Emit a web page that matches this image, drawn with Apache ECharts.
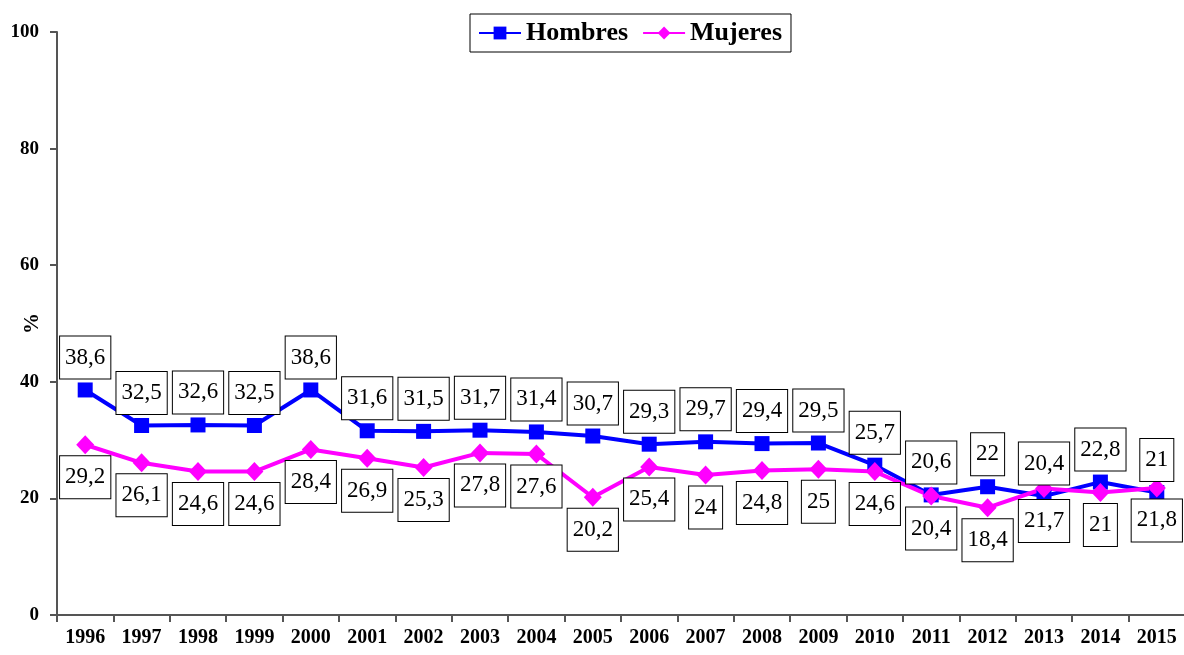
<!DOCTYPE html>
<html>
<head>
<meta charset="utf-8">
<script src="https://cdn.jsdelivr.net/npm/echarts@6/dist/echarts.min.js"></script>
<style>
html,body{margin:0;padding:0;background:#fff;}
#chart{width:1184px;height:655px;}
</style>
</head>
<body>
<div id="chart"></div>
<script>
var years = ['1996','1997','1998','1999','2000','2001','2002','2003','2004','2005','2006','2007','2008','2009','2010','2011','2012','2013','2014','2015'];
var hombres = [38.6,32.5,32.6,32.5,38.6,31.6,31.5,31.7,31.4,30.7,29.3,29.7,29.4,29.5,25.7,20.6,22,20.4,22.8,21];
var mujeres = [29.2,26.1,24.6,24.6,28.4,26.9,25.3,27.8,27.6,20.2,25.4,24,24.8,25,24.6,20.4,18.4,21.7,21,21.8];

var FONT = '"Liberation Serif","Times New Roman",serif';
function fmt(p){ return String(p.value).replace('.', ','); }
var boxLabel = {
  show: true,
  formatter: fmt,
  fontFamily: FONT,
  fontSize: 23,
  lineHeight: 24,
  color: '#000',
  backgroundColor: '#fff',
  borderColor: '#000',
  borderWidth: 1,
  padding: [9, 5, 9, 5]
};

var chart = echarts.init(document.getElementById('chart'), null, {renderer: 'canvas'});
chart.setOption({
  animation: false,
  backgroundColor: '#fff',
  grid: {left: 57, right: -1, top: 32, bottom: 40, containLabel: false, outerBoundsMode: 'none'},
  legend: {
    left: 470, top: 14,
    padding: [6, 9, 6, 8],
    itemGap: 14,
    itemWidth: 42, itemHeight: 16,
    borderColor: '#000', borderWidth: 1,
    textStyle: {fontFamily: FONT, fontSize: 26, fontWeight: 'bold', color: '#000'},
    data: ['Hombres', 'Mujeres']
  },
  xAxis: {
    type: 'category',
    data: years,
    boundaryGap: true,
    axisLine: {lineStyle: {color: '#555', width: 2}},
    axisTick: {show: true, length: 7, lineStyle: {color: '#555', width: 2}},
    axisLabel: {fontFamily: FONT, fontSize: 20, fontWeight: 'bold', color: '#000', margin: 13}
  },
  yAxis: {
    type: 'value',
    min: 0, max: 100, interval: 20,
    name: '%',
    nameLocation: 'middle',
    nameGap: 14,
    nameRotate: 90,
    nameMoveOverlap: false,
    nameTextStyle: {fontFamily: FONT, fontSize: 21, fontWeight: 'bold', color: '#000'},
    splitLine: {show: false},
    axisLine: {show: true, lineStyle: {color: '#555', width: 2}},
    axisTick: {show: true, length: 7, lineStyle: {color: '#555', width: 2}},
    axisLabel: {fontFamily: FONT, fontSize: 19, fontWeight: 'bold', color: '#000', margin: 18}
  },
  series: [
    {
      name: 'Hombres', type: 'line', data: hombres,
      symbol: 'rect', symbolSize: 15,
      lineStyle: {color: '#0000ff', width: 4},
      itemStyle: {color: '#0000ff'},
      label: Object.assign({position: 'top', distance: 4}, boxLabel),
      z: 3
    },
    {
      name: 'Mujeres', type: 'line', data: mujeres,
      symbol: 'diamond', symbolSize: [18, 19],
      lineStyle: {color: '#ff00ff', width: 4},
      itemStyle: {color: '#ff00ff'},
      label: Object.assign({position: 'bottom', distance: 2}, boxLabel),
      z: 3
    }
  ]
});
</script>
</body>
</html>
